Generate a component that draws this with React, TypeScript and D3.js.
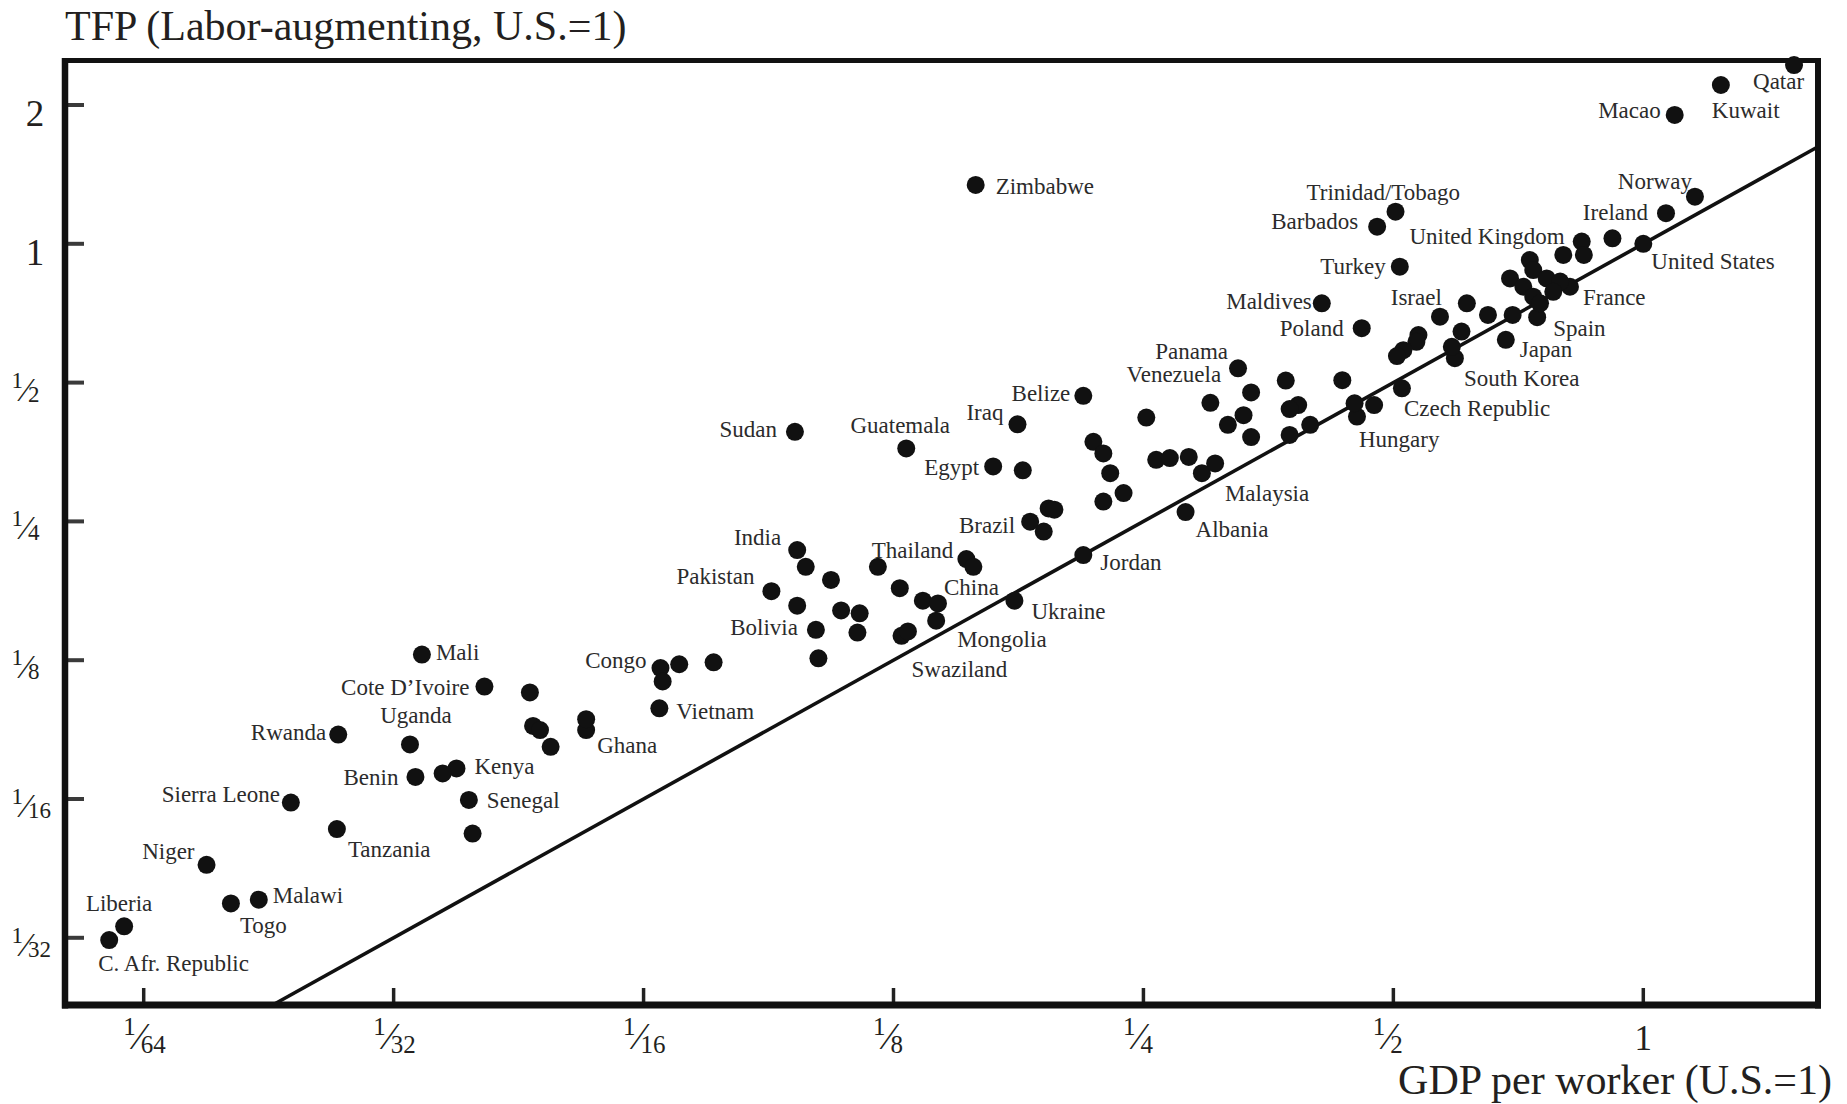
import React from "react";
import * as d3 from "d3";

// ---------- data ----------
const countries: (string | null)[] = [
  "Qatar", "Kuwait", "Macao", "Norway", "Ireland", "United States", "United Kingdom", "France",
  "Spain", "Japan", "South Korea", "Israel", "Trinidad/Tobago", "Barbados", "Turkey", "Maldives",
  "Poland", "Czech Republic", "Hungary", "Panama", "Venezuela", "Belize", "Iraq", "Sudan",
  "Guatemala", "Egypt", "Zimbabwe", "Malaysia", "Albania", "Brazil", "Jordan", "India",
  "Thailand", "China", "Pakistan", "Ukraine", "Bolivia", "Mongolia", "Swaziland", "Congo",
  "Vietnam", "Ghana", "Mali", "Cote D’Ivoire", "Uganda", "Rwanda", "Benin", "Kenya",
  "Senegal", "Sierra Leone", "Tanzania", "Niger", "Malawi", "Togo", "Liberia", "C. Afr. Republic",
  null, null, null, null, null, null, null, null, null, null, null, null, null, null, null, null,
  null, null, null, null, null, null, null, null, null, null, null, null, null, null, null, null,
  null, null, null, null, null, null, null, null, null, null, null, null, null, null, null, null,
  null, null, null, null, null, null, null, null, null, null, null, null, null, null, null, null,
  null, null, null, null, null,
];

const gdpPerWorker: number[] = [
  1.519, 1.24, 1.091, 1.154, 1.065, 1.0, 0.843, 0.816,
  0.745, 0.683, 0.593, 0.613, 0.503, 0.478, 0.509, 0.41,
  0.458, 0.512, 0.452, 0.325, 0.337, 0.2116, 0.1763, 0.0951,
  0.1295, 0.1648, 0.157, 0.294, 0.281, 0.1826, 0.2116, 0.0957,
  0.153, 0.156, 0.0891, 0.1748, 0.1008, 0.1407, 0.1278, 0.0655,
  0.0653, 0.0533, 0.0338, 0.0402, 0.0327, 0.0268, 0.0332, 0.0372,
  0.0385, 0.0235, 0.0267, 0.0186, 0.0215, 0.0199, 0.0148, 0.0142,
  0.918, 0.848, 0.801, 0.73, 0.737, 0.691, 0.717, 0.765,
  0.794, 0.779, 0.737, 0.751, 0.696, 0.65, 0.569, 0.604,
  0.588, 0.536, 0.533, 0.514, 0.505, 0.434, 0.449, 0.474,
  0.397, 0.384, 0.375, 0.375, 0.371, 0.301, 0.252, 0.33,
  0.316, 0.337, 0.2176, 0.2237, 0.228, 0.2366, 0.2237, 0.259,
  0.269, 0.2835, 0.305, 0.1789, 0.1922, 0.1953, 0.1896, 0.098,
  0.1051, 0.0957, 0.1081, 0.1138, 0.1131, 0.1015, 0.1197, 0.1272,
  0.1356, 0.1414, 0.1301, 0.069, 0.0659, 0.0759, 0.0456, 0.046,
  0.0469, 0.0483, 0.0533, 0.0358, 0.0389,
];

const tfp: number[] = [
  2.442, 2.21, 1.903, 1.265, 1.165, 1.0, 1.011, 0.807,
  0.693, 0.619, 0.565, 0.743, 1.174, 1.089, 0.892, 0.743,
  0.656, 0.486, 0.422, 0.537, 0.476, 0.468, 0.406, 0.391,
  0.36, 0.329, 1.342, 0.318, 0.262, 0.2497, 0.2113, 0.2166,
  0.2071, 0.1993, 0.1764, 0.1683, 0.1455, 0.1523, 0.1412, 0.1202,
  0.0983, 0.0882, 0.1286, 0.1096, 0.0821, 0.0862, 0.0698, 0.0728,
  0.0622, 0.0614, 0.0538, 0.045, 0.0378, 0.0371, 0.0331, 0.0309,
  1.028, 0.946, 0.946, 0.922, 0.877, 0.841, 0.807, 0.841,
  0.828, 0.787, 0.768, 0.743, 0.701, 0.701, 0.695, 0.645,
  0.598, 0.634, 0.613, 0.588, 0.571, 0.506, 0.451, 0.447,
  0.405, 0.447, 0.438, 0.385, 0.505, 0.452, 0.42, 0.425,
  0.405, 0.381, 0.372, 0.351, 0.318, 0.288, 0.276, 0.34,
  0.343, 0.345, 0.334, 0.3227, 0.2668, 0.265, 0.2376, 0.1993,
  0.1866, 0.1641, 0.1603, 0.158, 0.1435, 0.1262, 0.1993, 0.1791,
  0.1683, 0.166, 0.1443, 0.1225, 0.1124, 0.1237, 0.1064, 0.09,
  0.0882, 0.0811, 0.0931, 0.071, 0.0526,
];

const xTickValues: number[] = [1 / 64, 1 / 32, 1 / 16, 1 / 8, 1 / 4, 1 / 2, 1];
const xTickLabels: string[] = ["1/64", "1/32", "1/16", "1/8", "1/4", "1/2", "1"];
const yTickValues: number[] = [1 / 32, 1 / 16, 1 / 8, 1 / 4, 1 / 2, 1, 2];
const yTickLabels: string[] = ["1/32", "1/16", "1/8", "1/4", "1/2", "1", "2"];

const yTitle = "TFP (Labor-augmenting, U.S.=1)";
const xTitle = "GDP per worker (U.S.=1)";

// label placement: [country, dx, dy, anchor] (pixel offsets from the dot)
const labelPlacement: [string, number, number, "start" | "middle" | "end"][] = [
  ["Qatar", -41, 24, "start"], ["Kuwait", -9, 33, "start"], ["Macao", -14, 3, "end"],
  ["Norway", -3, -8, "end"], ["Ireland", -18, 7, "end"], ["United Kingdom", -17, 2, "end"],
  ["United States", 8, 25, "start"], ["France", 13, 18, "start"], ["Spain", 16, 19, "start"],
  ["Japan", 14, 17, "start"], ["South Korea", 9, 28, "start"], ["Czech Republic", 2, 28, "start"],
  ["Hungary", 2, 30, "start"], ["Israel", -25, 2, "end"], ["Turkey", -14, 7, "end"],
  ["Trinidad/Tobago", -89, -12, "start"], ["Barbados", -19, 2, "end"], ["Poland", -18, 8, "end"],
  ["Maldives", -10, 6, "end"], ["Panama", -10, -9, "end"], ["Venezuela", -30, -10, "end"],
  ["Malaysia", 23, 28, "start"], ["Albania", 10, 25, "start"], ["Jordan", 17, 15, "start"],
  ["Belize", -13, 5, "end"], ["Iraq", -14, -4, "end"], ["Egypt", -14, 9, "end"],
  ["Brazil", -15, 11, "end"], ["Thailand", -13, -1, "end"], ["China", -2, 28, "middle"],
  ["Ukraine", 17, 18, "start"], ["Mongolia", 21, 26, "start"], ["Swaziland", 10, 41, "start"],
  ["India", -16, -5, "end"], ["Pakistan", -17, -7, "end"], ["Bolivia", -18, 5, "end"],
  ["Guatemala", -6, -15, "middle"], ["Sudan", -18, 5, "end"], ["Congo", -14, 0, "end"],
  ["Vietnam", 17, 11, "start"], ["Ghana", 11, 23, "start"], ["Mali", 14, 5, "start"],
  ["Cote D’Ivoire", -15, 8, "end"], ["Uganda", 6, -21, "middle"], ["Rwanda", -12, 5, "end"],
  ["Benin", -17, 8, "end"], ["Kenya", 18, 6, "start"], ["Senegal", 18, 8, "start"],
  ["Sierra Leone", -11, -1, "end"], ["Tanzania", 11, 28, "start"], ["Niger", -12, -6, "end"],
  ["Malawi", 14, 3, "start"], ["Togo", 9, 30, "start"], ["Liberia", -5, -15, "middle"],
  ["C. Afr. Republic", -11, 31, "start"], ["Zimbabwe", 20, 9, "start"],
];

// ---------- layout ----------
const W = 1847;
const H = 1104;
const frame = { left: 65, right: 1818, top: 60.5, bottom: 1005 };
const FONT = "'Liberation Serif', 'Times New Roman', serif";
const INK = "#231f20";

export default function App() {
  const x = d3.scaleLog().base(2).domain([1 / 64, 1]).range([143.7, 1643.3]);
  const y = d3.scaleLog().base(2).domain([1 / 32, 2]).range([937.8, 105]);

  const points = gdpPerWorker.map((g, i) => ({ g, t: tfp[i], name: countries[i] }));
  const byName = new Map(points.filter((p) => p.name).map((p) => [p.name as string, p]));

  const v0 = y.invert(frame.bottom);
  const v1 = x.invert(frame.right);
  const line = d3
    .line<number>()
    .x((v) => x(v))
    .y((v) => y(v));
  const linePath = line([v0, v1]) || "";

  const frac = (label: string, kind: "x" | "y", pos: number, key: string) => {
    const parts = label.split("/");
    if (kind === "x") {
      if (parts.length === 1)
        return (
          <text key={key} x={pos} y={1050} fontSize={35} textAnchor="middle" fill={INK}>
            {label}
          </text>
        );
      return (
        <g key={key} fill={INK}>
          <text x={pos - 8} y={1035} fontSize={25} textAnchor="end">{parts[0]}</text>
          <text x={pos - 4} y={1049} fontSize={38} textAnchor="middle">⁄</text>
          <text x={pos - 3} y={1053} fontSize={25} textAnchor="start">{parts[1]}</text>
        </g>
      );
    }
    if (parts.length === 1)
      return (
        <text key={key} x={35} y={pos + 21} fontSize={37} textAnchor="middle" fill={INK}>
          {label}
        </text>
      );
    return (
      <g key={key} fill={INK}>
        <text x={23} y={pos + 5} fontSize={23} textAnchor="end">{parts[0]}</text>
        <text x={26} y={pos + 18} fontSize={34} textAnchor="middle">⁄</text>
        <text x={28} y={pos + 19} fontSize={23} textAnchor="start">{parts[1]}</text>
      </g>
    );
  };

  return (
    <svg
      width={W}
      height={H}
      viewBox={`0 0 ${W} ${H}`}
      style={{ position: "absolute", left: 0, top: 0, display: "block", background: "#fff" }}
      fontFamily={FONT}
    >
      <rect x={0} y={0} width={W} height={H} fill="#fff" />

      {/* axis titles */}
      <text x={65} y={40} fontSize={42} fill={INK}>{yTitle}</text>
      <text x={1832} y={1094} fontSize={42} textAnchor="end" fill={INK}>{xTitle}</text>

      {/* ticks */}
      {yTickValues.map((v, i) => (
        <line key={"yt" + i} x1={frame.left} x2={frame.left + 19} y1={y(v)} y2={y(v)} stroke="#3a3a3a" strokeWidth={4} />
      ))}
      {xTickValues.map((v, i) => (
        <line key={"xt" + i} x1={x(v)} x2={x(v)} y1={frame.bottom} y2={frame.bottom - 17} stroke="#222" strokeWidth={3.5} />
      ))}

      {/* tick labels */}
      {yTickValues.map((v, i) => frac(yTickLabels[i], "y", y(v), "yl" + i))}
      {xTickValues.map((v, i) => frac(xTickLabels[i], "x", x(v), "xl" + i))}

      {/* 45-degree line */}
      <path d={linePath} stroke="#111" strokeWidth={3.6} fill="none" />

      {/* points */}
      {points.map((p, i) => (
        <circle key={"p" + i} cx={x(p.g)} cy={y(p.t)} r={9} fill="#111" />
      ))}

      {/* labels */}
      {labelPlacement.map(([name, dx, dy, anchor]) => {
        const p = byName.get(name);
        if (!p) return null;
        return (
          <text key={"l" + name} x={x(p.g) + dx} y={y(p.t) + dy} fontSize={23} textAnchor={anchor} fill="#2b2b2b">
            {name}
          </text>
        );
      })}

      {/* frame */}
      <line x1={frame.left} x2={frame.left} y1={frame.top - 2.5} y2={frame.bottom + 3.5} stroke="#111" strokeWidth={6.5} />
      <line x1={frame.right} x2={frame.right} y1={frame.top - 2.5} y2={frame.bottom + 3.5} stroke="#111" strokeWidth={6} />
      <line x1={frame.left - 3} x2={frame.right + 3} y1={frame.top} y2={frame.top} stroke="#111" strokeWidth={5} />
      <line x1={frame.left - 3} x2={frame.right + 3} y1={frame.bottom} y2={frame.bottom} stroke="#111" strokeWidth={7} />
    </svg>
  );
}
